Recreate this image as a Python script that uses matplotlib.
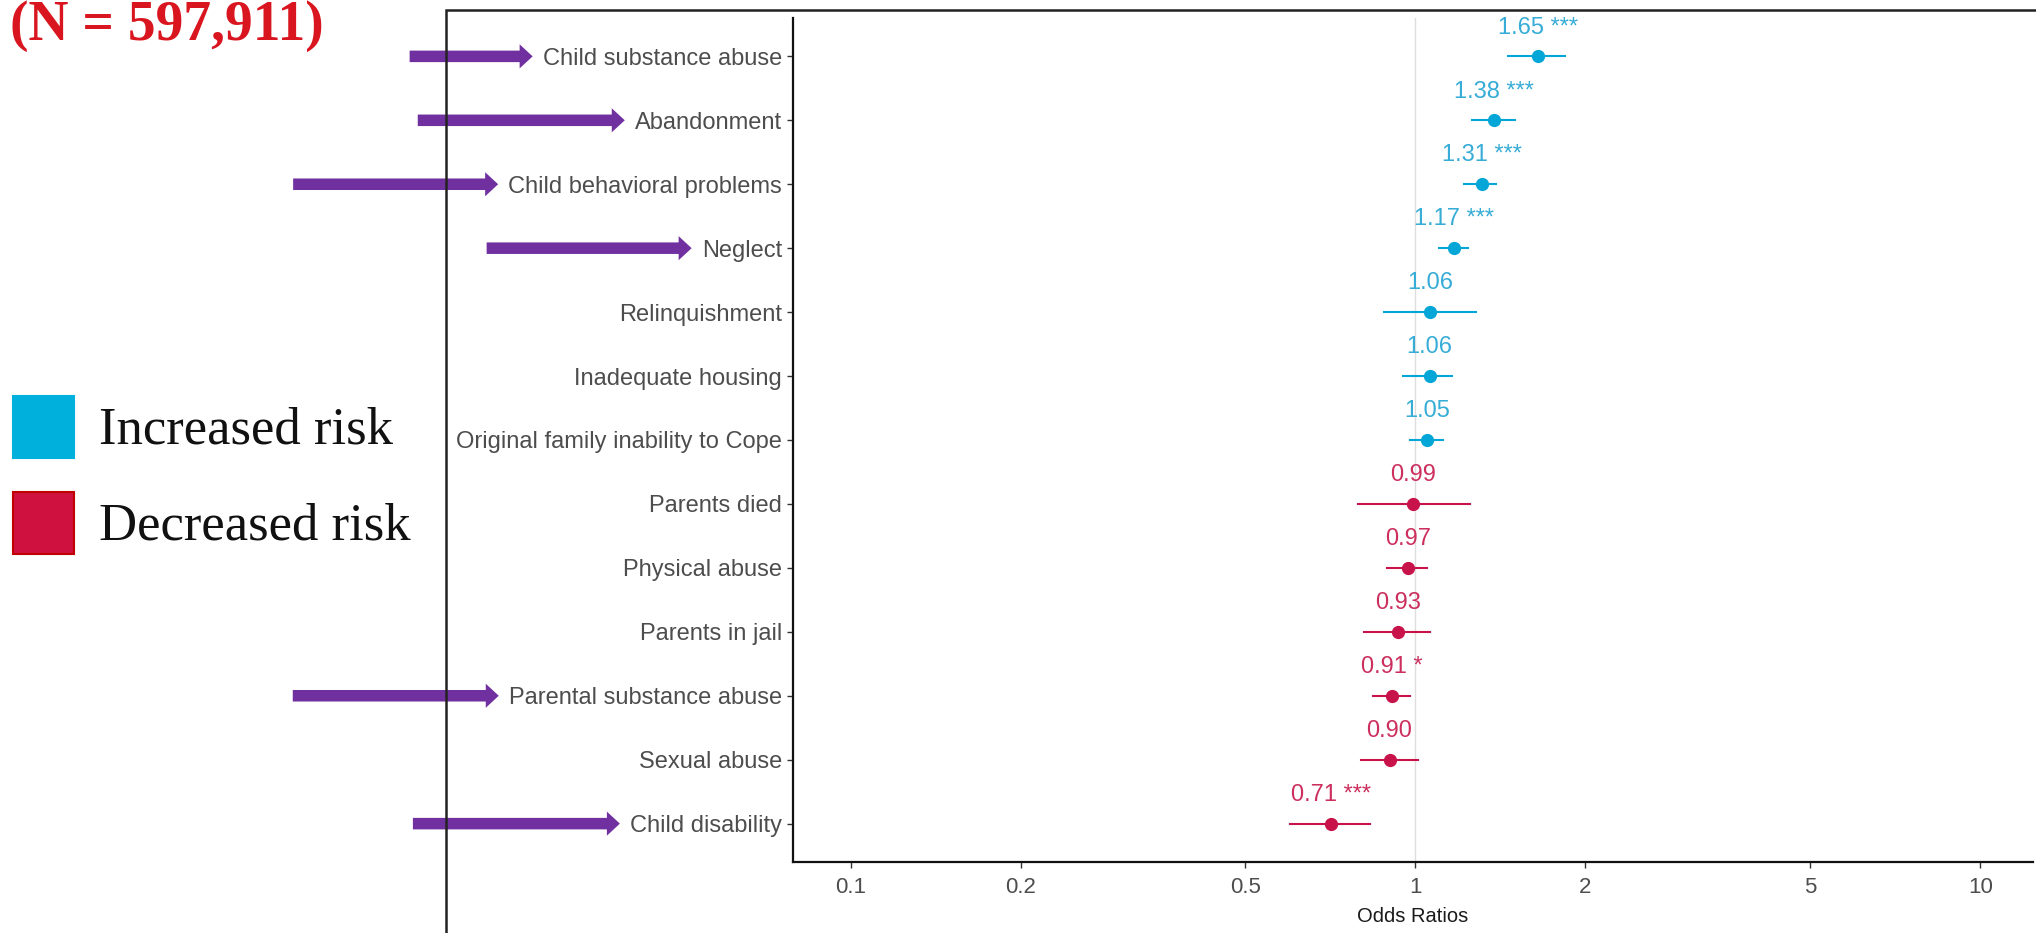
import matplotlib
matplotlib.use('Agg')
import matplotlib.pyplot as plt
import matplotlib.transforms as mtransforms
from matplotlib.patches import Rectangle, FancyArrow
import numpy as np

# 数据（从上到下）
labels = ['Child substance abuse', 'Abandonment', 'Child behavioral problems', 'Neglect',
          'Relinquishment', 'Inadequate housing', 'Original family inability to Cope',
          'Parents died', 'Physical abuse', 'Parents in jail', 'Parental substance abuse',
          'Sexual abuse', 'Child disability']
odds = [1.65, 1.38, 1.31, 1.17, 1.063, 1.06, 1.05, 0.99, 0.97, 0.93, 0.91, 0.90, 0.71]
ci_low = [1.46, 1.26, 1.22, 1.10, 0.88, 0.95, 0.98, 0.79, 0.89, 0.81, 0.84, 0.80, 0.60]
ci_high = [1.84, 1.50, 1.39, 1.24, 1.28, 1.16, 1.12, 1.25, 1.05, 1.06, 0.98, 1.01, 0.83]
stars = ['***', '***', '***', '***', '', '', '', '', '', '', '*', '', '***']
value_text = ['1.65', '1.38', '1.31', '1.17', '1.06', '1.06', '1.05',
              '0.99', '0.97', '0.93', '0.91', '0.90', '0.71']
x_ticks = [0.1, 0.2, 0.5, 1, 2, 5, 10]
x_tick_labels = ['0.1', '0.2', '0.5', '1', '2', '5', '10']
arrow_rows = ['Child substance abuse', 'Abandonment', 'Child behavioral problems',
              'Neglect', 'Parental substance abuse', 'Child disability']
legend_names = ['Increased risk', 'Decreased risk']
title = '(N = 597,911)'

W, H = 2036, 933
BLUE, BLUE_TXT = '#03a6d6', '#36acd6'
RED, RED_TXT = '#c8124a', '#cc2f5d'
PURPLE = '#7030a0'


def fx(px):
    return px / W


def fy(py):
    # 从顶部算起的像素 -> figure 坐标
    return 1 - py / H


fig = plt.figure(figsize=(W / 100, H / 100), dpi=100)
ax = fig.add_axes([fx(793), fy(862), fx(2033) - fx(793), fy(18) - fy(862)])

n = len(labels)
ys = np.arange(n, 0, -1)
odds = np.array(odds)
up = odds >= 1

ax.axvline(1, color='#dedede', lw=1, zorder=0)
for i in range(n):
    c = BLUE if up[i] else RED
    ax.plot([ci_low[i], ci_high[i]], [ys[i], ys[i]], color=c, lw=1.5, zorder=2)
    ax.plot(odds[i], ys[i], 'o', color=c, ms=8.5, zorder=3)
    txt = value_text[i] + (' ' + stars[i] if stars[i] else '')
    ax.text(odds[i], ys[i] + 0.45, txt, ha='center', va='center', fontsize=17,
            family='Liberation Sans', color=BLUE_TXT if up[i] else RED_TXT)

ax.set_xscale('log')
ax.set_xlim(0.0791, 12.4)
ax.set_ylim(0.4, n + 0.6)
ax.set_xticks(x_ticks)
ax.set_xticklabels(x_tick_labels)
ax.xaxis.set_minor_locator(matplotlib.ticker.NullLocator())
ax.set_yticks(ys)
ax.set_yticklabels(labels)
for s in ['top', 'right']:
    ax.spines[s].set_visible(False)
for s in ['left', 'bottom']:
    ax.spines[s].set_linewidth(1.6)
    ax.spines[s].set_color('#111111')
ax.tick_params(axis='y', length=4, width=1, color='#333333', pad=4,
               labelsize=17, labelcolor='#4d4d4d')
ax.tick_params(axis='x', length=4, width=1, color='#333333', pad=7,
               labelsize=16, labelcolor='#4d4d4d')
for lab in ax.get_xticklabels() + ax.get_yticklabels():
    lab.set_family('Liberation Sans')
ax.set_xlabel('Odds Ratios', fontsize=14.5, family='Liberation Sans', color='#1a1a1a', labelpad=6)

# 紫色箭头，箭头尖端对齐标签左侧
fig.canvas.draw()
renderer = fig.canvas.get_renderer()
arrow_len = [123, 207, 205, 205, 206, 207]
trans = mtransforms.blended_transform_factory(fig.transFigure, ax.transData)
row_px = 63.8
for name, L in zip(arrow_rows, arrow_len):
    k = labels.index(name)
    bb = ax.get_yticklabels()[k].get_window_extent(renderer)
    tip = bb.x0 - 10
    arr = FancyArrow(fx(tip - L), ys[k], fx(L), 0, width=11.5 / row_px,
                     head_width=24 / row_px, head_length=fx(13),
                     length_includes_head=True, color=PURPLE, lw=0,
                     transform=trans, clip_on=False, zorder=5)
    fig.add_artist(arr)

# 外框
frame = Rectangle((fx(446), -0.1), 1, fy(10) + 0.1, fill=False, ec='#222222', lw=1.8,
                  transform=fig.transFigure, clip_on=False, zorder=10)
fig.add_artist(frame)

# 图例
sq_cols = [('#00b0dc', '#00b0dc'), ('#cf1140', '#c00000')]
sq_top = [396, 492]
base = [444, 540]
for name, (fc, ec), t, b in zip(legend_names, sq_cols, sq_top, base):
    fig.add_artist(Rectangle((fx(13), fy(t + 62)), fx(61), 62 / H, fc=fc, ec=ec, lw=1.5,
                             transform=fig.transFigure))
    fig.text(fx(99), fy(b), name, fontsize=38, family='Liberation Serif',
             color='#111111', va='baseline', ha='left')

fig.text(fx(10), fy(40), title, fontsize=40, family='Liberation Serif',
         fontweight='bold', color='#d9161f', va='baseline', ha='left')

fig.savefig('out.png', dpi=100)
